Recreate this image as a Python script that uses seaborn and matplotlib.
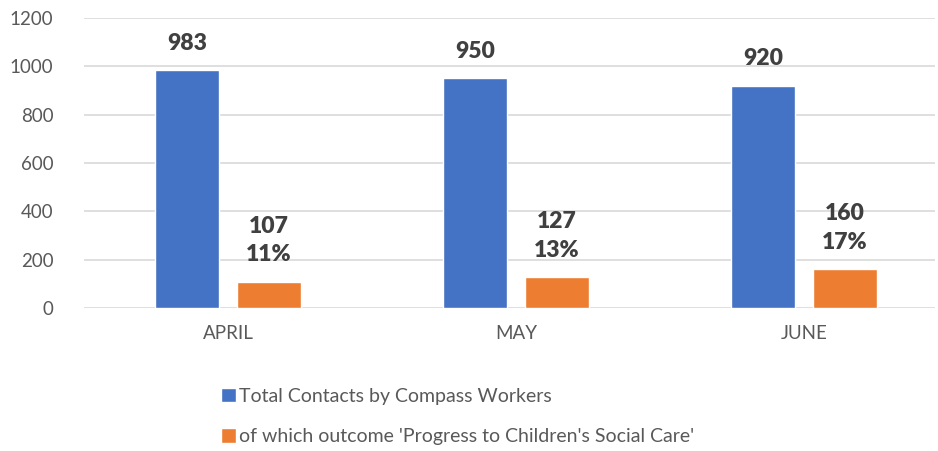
import matplotlib
matplotlib.use("Agg")
import matplotlib.pyplot as plt
import seaborn as sns
import pandas as pd

months = ["APRIL", "MAY", "JUNE"]
total_contacts = [983, 950, 920]
progress_csc = [107, 127, 160]
pct_labels = ["11%", "13%", "17%"]
series_names = ["Total Contacts by Compass Workers",
                "of which outcome 'Progress to Children's Social Care'"]
y_ticks = [0, 200, 400, 600, 800, 1000, 1200]

sns.set_theme(style="white")
plt.rcParams["font.family"] = ["Lato", "DejaVu Sans"]

df = pd.DataFrame({
    "month": months * 2,
    "value": total_contacts + progress_csc,
    "series": [series_names[0]] * 3 + [series_names[1]] * 3,
})

fig = plt.figure(figsize=(9.38, 4.51), dpi=100)
ax = fig.add_axes([84 / 938, 1 - 308 / 451, (935 - 84) / 938, 290 / 451])

sns.barplot(data=df, x="month", y="value", hue="series", order=months,
            hue_order=series_names, palette=["#4472C4", "#ED7D31"],
            width=0.57, gap=0.22, saturation=1, ax=ax, legend=True,
            errorbar=None)

ax.set_ylim(0, 1200)
ax.set_xlim(-0.5, -0.5 + (935 - 84) / 288)
ax.set_yticks(y_ticks)
ax.yaxis.grid(True, color="#D9D9D9", linewidth=1.2)
ax.set_axisbelow(True)
for s in ax.spines.values():
    s.set_visible(False)
ax.set_xlabel("")
ax.set_ylabel("")
ax.tick_params(axis="both", length=0, colors="#595959", labelsize=13.5)
ax.tick_params(axis="y", pad=22)
ax.tick_params(axis="x", pad=12)

containers = ax.containers
for bar, v in zip(containers[0], total_contacts):
    ax.annotate(f"{v}", (bar.get_x() + bar.get_width() / 2, bar.get_height()),
                xytext=(0, 12), textcoords="offset points", ha="center",
                va="bottom", fontsize=16.5, fontweight="heavy", color="#404040")
for bar, v, p in zip(containers[1], progress_csc, pct_labels):
    ax.annotate(f"{v}\n{p}", (bar.get_x() + bar.get_width() / 2, bar.get_height()),
                xytext=(0, 12), textcoords="offset points", ha="center",
                va="bottom", fontsize=16.5, fontweight="heavy", color="#404040",
                linespacing=1.45)

leg = ax.get_legend()
handles = leg.legend_handles
leg.remove()
fig.legend(handles, series_names, loc="upper left",
           bbox_to_anchor=(203 / 938, 1 - 370 / 451), frameon=False,
           fontsize=14, labelcolor="#595959", handlelength=0.8,
           handleheight=0.8, handletextpad=0.15, labelspacing=1.2,
           ncol=1)

fig.savefig("out.png", dpi=100)
